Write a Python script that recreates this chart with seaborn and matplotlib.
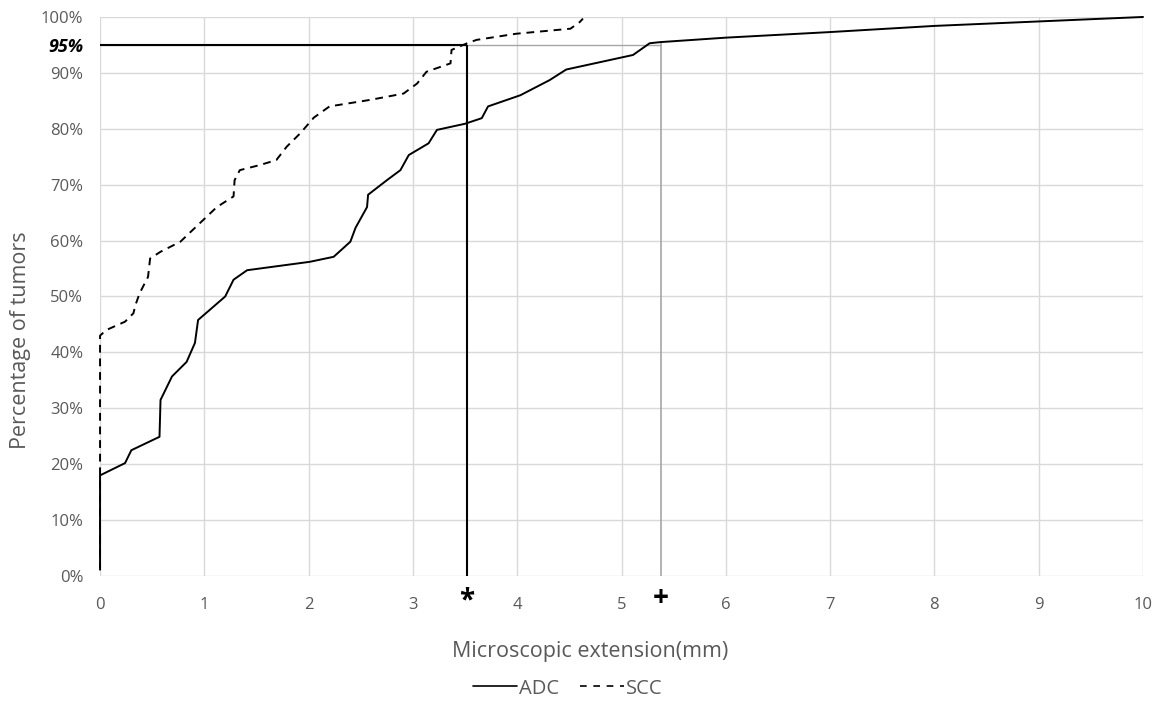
import numpy as np
import pandas as pd
import matplotlib
matplotlib.use("Agg")
import matplotlib.pyplot as plt
from matplotlib.lines import Line2D
import seaborn as sns

# ── Data ───────────────────────────────────────────────────────────────────────
adc_x = [0, 0, 0.24, 0.30, 0.57, 0.58, 0.69, 0.83, 0.91, 0.94, 1.07, 1.20, 1.28,
         1.41, 2.01, 2.24, 2.40, 2.45, 2.56, 2.57, 2.75, 2.88, 2.96, 3.15, 3.23,
         3.50, 3.66, 3.72, 4.03, 4.31, 4.47, 5.11, 5.27, 5.37, 6.0, 7.0, 8.0, 9.0, 10.0]
adc_y = [1.5, 18, 20.2, 22.5, 24.9, 31.5, 35.7, 38.3, 41.7, 45.8, 47.9, 50, 53,
         54.7, 56.2, 57.1, 59.8, 62.3, 66, 68.2, 70.8, 72.6, 75.3, 77.4, 79.8,
         80.9, 81.9, 84.0, 86.0, 88.7, 90.6, 93.2, 95.3, 95.5, 96.3, 97.3, 98.4, 99.2, 100]

scc_x = [0, 0, 0.06, 0.24, 0.32, 0.34, 0.38, 0.46, 0.48, 0.58, 0.77, 0.99, 1.12,
         1.28, 1.29, 1.34, 1.53, 1.69, 1.79, 1.92, 2.05, 2.2, 2.40, 2.6, 2.91,
         3.04, 3.13, 3.36, 3.37, 3.52, 3.61, 3.99, 4.51, 4.60, 4.63]
scc_y = [1, 43, 44, 45.5, 47, 48.5, 50.6, 53.5, 56.8, 58, 59.8, 63.7, 66,
         67.9, 70.8, 72.6, 73.5, 74.4, 76.8, 79.2, 82, 84, 84.6, 85.2, 86.3,
         88.1, 90.2, 91.7, 94.1, 95.3, 95.9, 97.0, 97.9, 99.1, 99.7]

y_ticks = [0, 10, 20, 30, 40, 50, 60, 70, 80, 90, 95, 100]
x_ticks = list(range(0, 11))
p95_scc = 3.52   # marked "*"
p95_adc = 5.38   # marked "+"

TEXT = "#595959"
GRID = "#d9d9d9"

sns.set_style("white")
plt.rcParams["font.family"] = ["Open Sans", "DejaVu Sans"]

fig, ax = plt.subplots(figsize=(11.66, 7.04), dpi=100)
fig.subplots_adjust(left=0.0858, right=0.9803, top=0.9759, bottom=0.1818)

adc = pd.DataFrame({"x": adc_x, "y": adc_y})
scc = pd.DataFrame({"x": scc_x, "y": scc_y})

# reference lines
ax.hlines(95, 0, p95_adc, color="#a6a6a6", linewidth=1.0, zorder=2)
ax.vlines(p95_adc, 0, 95.5, color="#a6a6a6", linewidth=1.2, zorder=2)
ax.hlines(95, 0, p95_scc, color="black", linewidth=1.5, zorder=3)
ax.vlines(p95_scc, 0, 95, color="black", linewidth=1.5, zorder=3)

sns.lineplot(data=adc, x="x", y="y", sort=False, estimator=None, ax=ax,
             color="black", linewidth=1.4, zorder=4)
sns.lineplot(data=scc, x="x", y="y", sort=False, estimator=None, ax=ax,
             color="black", linewidth=1.4, zorder=4)
ax.lines[-1].set_dashes((4, 3))
for ln in ax.lines[-2:]:
    ln.set_clip_on(False)
    ln.set_solid_joinstyle("round")
    ln.set_dash_joinstyle("round")

ax.set_xlim(0, 10)
ax.set_ylim(0, 100)
ax.set_xticks(x_ticks)
ax.set_yticks(y_ticks)
ax.set_yticklabels([f"{v}%" for v in y_ticks])
ax.tick_params(axis="both", length=0, labelsize=12, labelcolor=TEXT)
ax.tick_params(axis="y", pad=12)
ax.tick_params(axis="x", pad=15)
for lab in ax.get_yticklabels():
    if lab.get_text() == "95%":
        lab.set_color("black")
        lab.set_fontweight("bold")
        lab.set_fontstyle("italic")
        lab.set_fontsize(13)

# grid (no line at 95%)
for v in y_ticks:
    if v != 95:
        ax.axhline(v, color=GRID, linewidth=1, zorder=1)
for v in x_ticks:
    ax.axvline(v, color=GRID, linewidth=1, zorder=1)
for s in ax.spines.values():
    s.set_visible(False)

ax.set_xlabel("")
ax.set_ylabel("")
fig.text(0.0172, 0.517, "Percentage of tumors", rotation=90, ha="center",
         va="center", fontsize=15.5, color=TEXT)
fig.text(0.506, 0.074, "Microscopic extension(mm)", ha="center", va="center",
         fontsize=15.5, color=TEXT)

# percentile markers under the axis
trans = ax.get_xaxis_transform()
ax.text(p95_scc, -0.045, "*", transform=trans, ha="center", va="center",
        fontsize=20, fontweight="bold", color="black")
ax.text(p95_adc, -0.04, "+", transform=trans, ha="center", va="center",
        fontsize=20, fontweight="bold", color="black")

handles = [Line2D([], [], color="black", linewidth=1.2),
           Line2D([], [], color="black", linewidth=1.2, dashes=(4, 4))]
fig.legend(handles, ["ADC", "SCC"], loc="center", bbox_to_anchor=(0.487, 0.022),
           ncol=2, frameon=False, fontsize=14.5, labelcolor=TEXT,
           handlelength=2.2, handletextpad=0.1, columnspacing=1.0)

fig.savefig("out.png", dpi=100)
